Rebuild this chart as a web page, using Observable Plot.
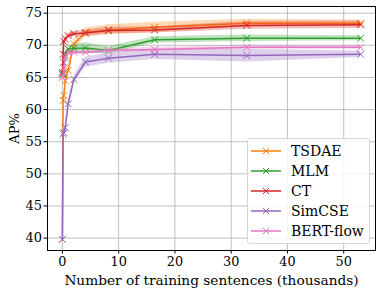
<!DOCTYPE html>
<html><head><meta charset="utf-8">
<script src="https://cdn.jsdelivr.net/npm/d3@7"></script>
<script src="https://cdn.jsdelivr.net/npm/@observablehq/plot@0.6"></script>
<style>
body{margin:0;background:#fff;}
#wrap{position:relative;width:382px;height:294px;}
#wrap svg text{font-family:"DejaVu Serif","Liberation Serif",serif !important;}
#wrap svg g[aria-label="x-axis label"] text, #wrap svg g[aria-label="x-axis label"]{font-size:13.7px !important;}
.legend{position:absolute;left:247px;top:138px;width:121px;height:104px;border:1px solid #d6d6d6;border-radius:3px;background:rgba(255,255,255,0.85);font-family:"DejaVu Serif","Liberation Serif",serif;font-size:14px;color:#000;}
.legend .row{position:absolute;left:0;height:20px;display:flex;align-items:center;white-space:nowrap;}
.legend svg{margin-left:3px;margin-right:10px;}
</style></head>
<body><div id="wrap"></div>
<script>
const xs = [0, 0.128, 0.256, 0.512, 1.024, 2.048, 4.096, 8.192, 16.384, 32.768, 53];
const seriesNames = ["TSDAE", "MLM", "CT", "SimCSE", "BERT-flow"];
const seriesColors = ["#ff7f0e", "#2ca02c", "#d62728", "#9467bd", "#e377c2"];
const tsdae    = [39.8, 61.4, 62.2, 64.5, 66.1, 70.2, 72.0, 72.4, 72.8, 73.45, 73.45];
const tsdaeErr = [0.2, 0.4, 0.4, 0.5, 0.6, 0.7, 0.7, 0.8, 0.8, 0.6, 0.5];
const mlm      = [65.5, 65.6, 67.3, 68.5, 69.4, 69.5, 69.6, 69.2, 70.85, 71.1, 71.1];
const mlmErr   = [0.4, 0.4, 0.5, 0.5, 0.6, 0.7, 0.8, 0.6, 0.5, 0.5, 0.4];
const ct       = [65.8, 68.6, 70.6, 71.0, 71.5, 71.8, 71.9, 72.3, 72.4, 73.1, 73.2];
const ctErr    = [0.4, 0.4, 0.4, 0.4, 0.4, 0.4, 0.5, 0.5, 0.5, 0.6, 0.6];
const simcse   = [39.8, 56.2, 56.4, 57.2, 60.9, 64.7, 67.4, 68.0, 68.6, 68.4, 68.6];
const simcseErr= [0.2, 0.3, 0.3, 0.4, 0.5, 0.6, 0.8, 0.8, 0.8, 1.0, 0.5];
const flow     = [65.0, 65.2, 66.5, 68.1, 68.9, 68.9, 68.9, 69.2, 69.35, 69.7, 69.7];
const flowErr  = [0.3, 0.3, 0.3, 0.3, 0.3, 0.3, 0.3, 0.3, 0.3, 0.3, 0.3];
const xTicks = [0, 10, 20, 30, 40, 50];
const yTicks = [40, 45, 50, 55, 60, 65, 70, 75];

const values = [tsdae, mlm, ct, simcse, flow];
const errs = [tsdaeErr, mlmErr, ctErr, simcseErr, flowErr];
const marks = [
  Plot.gridX(xTicks, {stroke: "#b0b0b0", strokeOpacity: 1, strokeWidth: 0.8}),
  Plot.gridY(yTicks, {stroke: "#b0b0b0", strokeOpacity: 1, strokeWidth: 0.8})
];
seriesNames.forEach((name, i) => {
  const rows = xs.map((x, j) => ({x, y: values[i][j], lo: values[i][j] - errs[i][j], hi: values[i][j] + errs[i][j]}));
  const c = seriesColors[i];
  marks.push(Plot.areaY(rows, {x: "x", y1: "lo", y2: "hi", fill: c, fillOpacity: 0.3}));
  marks.push(Plot.line(rows, {x: "x", y: "y", stroke: c, strokeWidth: 1.5}));
  marks.push(Plot.dot(rows, {x: "x", y: "y", symbol: "times", r: 3.2, stroke: c, strokeWidth: 1}));
});
marks.push(Plot.axisX(xTicks, {tickSize: 3.5, tickPadding: 3, label: "Number of training sentences (thousands)", labelAnchor: "center", labelOffset: 34, labelArrow: false, fontSize: 12.8}));
marks.push(Plot.axisY(yTicks, {tickSize: 3.5, tickPadding: 2, label: "AP%", labelAnchor: "center", labelOffset: 38, labelArrow: false, fontSize: 13}));
marks.push(Plot.frame({stroke: "#000", strokeWidth: 1}));

const plot = Plot.plot({
  width: 382, height: 294,
  marginLeft: 47, marginRight: 7, marginTop: 6, marginBottom: 44,
  x: {domain: [-2.65, 55.65]},
  y: {domain: [38.07, 76.04]},
  style: {fontFamily: "'DejaVu Serif', 'Liberation Serif', serif", fontSize: "13px", color: "#000", background: "#fff"},
  marks
});
const wrap = document.getElementById("wrap");
wrap.appendChild(plot);

const leg = document.createElement("div");
leg.className = "legend";
seriesNames.forEach((name, i) => {
  const row = document.createElement("div");
  row.className = "row";
  row.style.top = (2 + i * 19.9) + "px";
  const c = seriesColors[i];
  row.innerHTML = `<svg width="30" height="10"><line x1="0" y1="5" x2="30" y2="5" stroke="${c}" stroke-width="1.5"/><path d="M12,2L18,8M12,8L18,2" stroke="${c}" stroke-width="1"/></svg><span>${name}</span>`;
  leg.appendChild(row);
});
wrap.appendChild(leg);
</script>
</body></html>
